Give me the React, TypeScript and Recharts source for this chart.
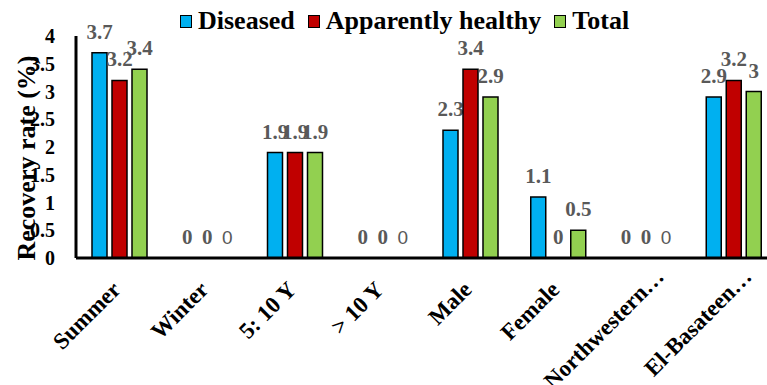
import React from 'react'
import { BarChart, Bar, XAxis, YAxis, Legend, Rectangle } from 'recharts'

const categories = ['Summer', 'Winter', '5: 10 Y', '> 10 Y', 'Male', 'Female', 'Northwestern…', 'El-Basateen…']
const diseased = [3.7, 0, 1.9, 0, 2.3, 1.1, 0, 2.9]
const healthy = [3.2, 0, 1.9, 0, 3.4, 0, 0, 3.2]
const total = [3.4, 0, 1.9, 0, 2.9, 0.5, 0, 3]
const yTicks = [0, 0.5, 1, 1.5, 2, 2.5, 3, 3.5, 4]

const series = [
  { key: 'diseased', name: 'Diseased', color: '#00B0F0' },
  { key: 'healthy', name: 'Apparently healthy', color: '#C00000' },
  { key: 'total', name: 'Total', color: '#92D050' },
]

const data = categories.map((name, i) => ({
  name,
  diseased: diseased[i],
  healthy: healthy[i],
  total: total[i],
}))

const SERIF = 'Liberation Serif, DejaVu Serif, serif'
const SANS = 'Liberation Sans, Arial, sans-serif'
const LABEL_GREY = '#595959'

function XTick({ x, y, payload }) {
  // truncated names sit a little further up the diagonal
  const cut = String(payload.value).endsWith('…')
  const ax = x + (cut ? 19 : 2)
  const ay = y + (cut ? 12 : 25)
  return (
    <text
      x={ax}
      y={ay}
      textAnchor="end"
      transform={`rotate(-45, ${ax}, ${ay})`}
      fontFamily={SERIF}
      fontWeight="bold"
      fontSize={23}
      fill="#000"
    >
      {payload.value}
    </text>
  )
}

function YTick({ y, payload }) {
  return (
    <text x={55} y={y + 7} textAnchor="end" fontFamily={SERIF} fontWeight="bold" fontSize={20} fill="#000">
      {payload.value}
    </text>
  )
}

// bar plus its value label; zero bars still get their "0".
// The Total column prints its zeros in a plain sans face.
const makeShape = (key, sansZero) => (props) => {
  const { x, y, width, height } = props
  const value = props.payload[key]
  const plain = sansZero && value === 0
  return (
    <g>
      {height > 0 && <Rectangle {...props} />}
      <text
        x={x + width / 2}
        y={y - 14}
        textAnchor="middle"
        fontFamily={plain ? SANS : SERIF}
        fontWeight={plain ? 'normal' : 'bold'}
        fontSize={plain ? 19 : 21}
        fill={LABEL_GREY}
      >
        {value}
      </text>
    </g>
  )
}

function LegendBox() {
  return (
    <div style={{ display: 'flex', alignItems: 'center', height: 30, paddingLeft: 180 }}>
      {series.map((s) => (
        <div key={s.key} style={{ display: 'flex', alignItems: 'center', marginRight: 13 }}>
          <span
            style={{
              display: 'inline-block',
              width: 10,
              height: 11,
              background: s.color,
              border: '1.5px solid #000',
              marginRight: 6,
            }}
          />
          <span style={{ fontFamily: SERIF, fontWeight: 'bold', fontSize: 26, color: '#000', lineHeight: '30px' }}>
            {s.name}
          </span>
        </div>
      ))}
    </div>
  )
}

export default function App() {
  return (
    <div style={{ position: 'fixed', left: 0, top: 0, width: 767, height: 385, overflow: 'hidden', background: '#fff' }}>
      <BarChart
        width={790}
        height={385}
        data={data}
        margin={{ top: 6, right: 12, bottom: 0, left: 0 }}
        barSize={15}
        barGap={5}
      >
        <Legend verticalAlign="top" align="left" content={LegendBox} wrapperStyle={{ top: 6, left: 0, width: 790 }} />
        <XAxis
          dataKey="name"
          height={127}
          interval={0}
          tickLine={false}
          axisLine={{ stroke: '#000', strokeWidth: 3 }}
          tick={XTick}
        />
        <YAxis
          width={76}
          domain={[0, 4]}
          ticks={yTicks}
          tickLine={false}
          axisLine={{ stroke: '#000', strokeWidth: 3 }}
          tick={YTick}
        />
        {series.map((s) => (
          <Bar
            key={s.key}
            dataKey={s.key}
            name={s.name}
            fill={s.color}
            stroke="#000"
            strokeWidth={1.5}
            shape={makeShape(s.key, s.key === 'total')}
            isAnimationActive={false}
          />
        ))}
      </BarChart>
      <svg style={{ position: 'absolute', left: 0, top: 0, pointerEvents: 'none' }} width={767} height={385}>
        <text
          x={26}
          y={158}
          transform="rotate(-90, 26, 158)"
          textAnchor="middle"
          dominantBaseline="central"
          fontFamily={SERIF}
          fontWeight="bold"
          fontSize={26}
          fill="#000"
        >
          Recovery rate (%)
        </text>
      </svg>
    </div>
  )
}
